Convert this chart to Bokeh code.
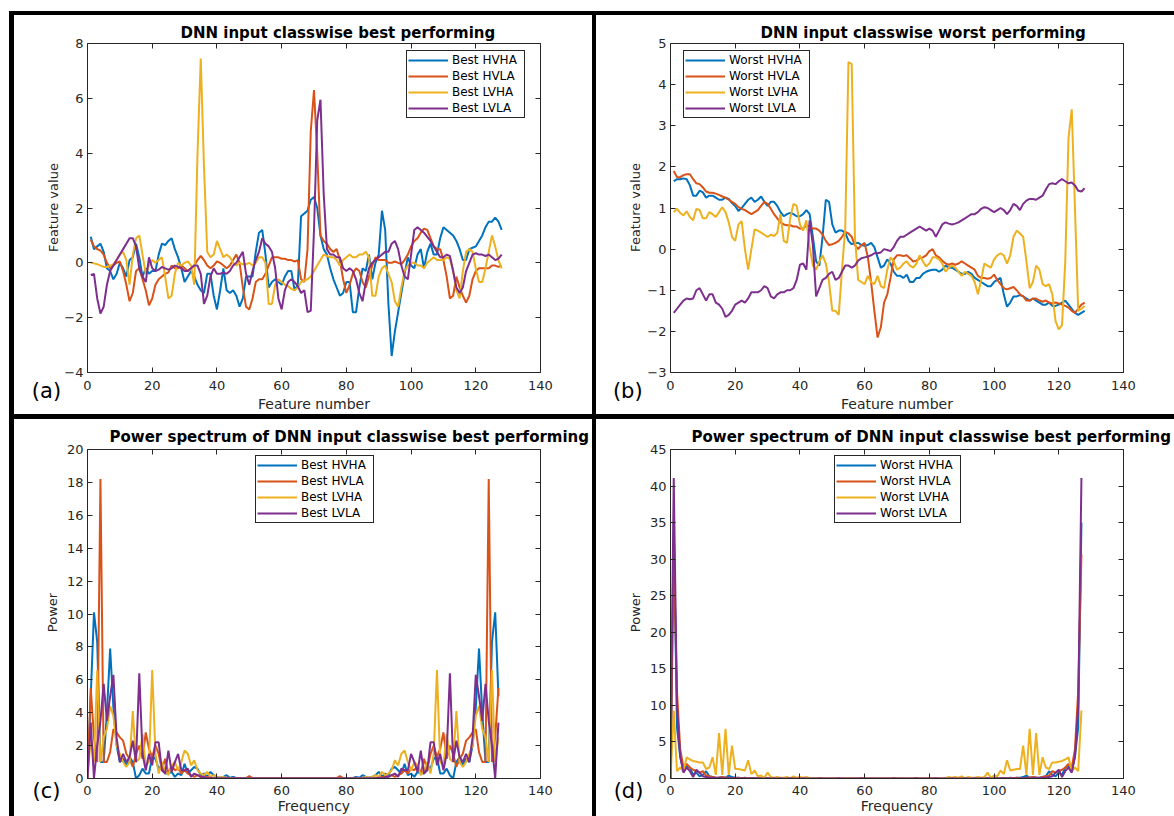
import math
from bokeh.plotting import figure
from bokeh.models import LinearAxis, FixedTicker, Legend, LegendItem, Div, Spacer, Range1d
from bokeh.core.properties import value
from bokeh.layouts import row, column
from bokeh.embed import file_html
from bokeh.resources import INLINE

# ---------------- data ----------------
classes = ["HVHA", "HVLA", "LVHA", "LVLA"]
x_ticks = [0, 20, 40, 60, 80, 100, 120, 140]
ya_ticks = [-4, -2, 0, 2, 4, 6, 8]
yb_ticks = [-3, -2, -1, 0, 1, 2, 3, 4, 5]
yc_ticks = [0, 2, 4, 6, 8, 10, 12, 14, 16, 18, 20]
yd_ticks = [0, 5, 10, 15, 20, 25, 30, 35, 40, 45]

best_hvha = [0.95, 0.5, 0.6, 0.7, 0.4, -0.2, -0.3, -0.6, -0.4, 0.0,
             -0.2, -0.5, 0.1, 0.2, 0.7, 0.2, -0.5, -0.2, -0.4, -0.3,
             -0.3, 0.3, 0.7, 0.65, 0.8, 0.9, 0.5, 0.2, -0.2, -0.7,
             -0.5, -0.3, -0.5, -0.8, -1.0, -1.1, -0.4, -0.4, -1.2, -1.7,
             -1.0, -0.2, -1.0, -1.1, -1.0, -1.2, -1.6, -1.3, -0.5, -0.5,
             -0.5, 0.4, 1.1, 1.2, 0.3, -0.9, -0.7, -0.6, -0.7, -0.8,
             -0.5, -0.3, -0.3, -1.0, -0.8, 1.7, 1.8, 1.9, 2.3, 2.4,
             2.0, 1.0, 0.5, 0.3, -0.2, -0.6, -0.9, -1.2, -1.1, -0.7,
             -0.7, -1.8, -1.8, -0.9, -0.2, -0.3, 0.3, -0.6, 0.0, 0.3,
             1.9, 1.2, -1.5, -3.4, -2.5, -1.8, -1.1, -0.4, 0.2, -0.1,
             -0.2, 0.3, 0.5, -0.2, 0.4, 0.7, 0.3, 0.3, 0.9, 1.3,
             1.2, 1.1, 1.0, 0.8, 0.5, 0.1, 0.1, 0.5, 0.55, 0.6,
             0.8, 1.0, 1.3, 1.5, 1.5, 1.65, 1.5, 1.2]
best_hvla = [0.85, 0.6, 0.5, 0.45, 0.3, 0.0, -0.2, -0.1, 0.0, 0.05,
             -0.3, -0.8, -1.4, -1.1, -0.3, -0.2, -0.6, -1.0, -1.55, -1.3,
             -0.8, -0.6, -0.5, -0.4, -0.35, -0.1, -0.2, -0.2, -0.1, -0.2,
             -0.3, -0.2, -0.1, 0.1, 0.25, 0.1, -0.1, -0.2, -0.1, 0.05,
             0.0, -0.1, -0.2, -0.1, 0.1, 0.3, 0.0, -0.9, -1.6, -1.7,
             -1.3, -0.7, -0.6, -0.6, -0.4, -0.1, 0.2, 0.2, 0.2, 0.15,
             0.15, 0.1, 0.1, 0.05, 0.1, -0.6, -0.7, 0.5, 4.8, 6.3,
             4.0, 1.0, 0.8, 0.7, 0.5, 0.4, 0.5, 0.1, -0.6, -1.1,
             -0.8, -0.4, -0.2, -0.3, -0.7, -0.9, -0.5, -0.1, 0.2, 0.1,
             0.1, 0.1, 0.0, 0.0, 0.05, 0.0, -0.05, 0.1, 0.3, 0.6,
             0.8, 0.9, 1.1, 1.25, 1.2, 0.9, 0.6, 0.5, 0.5, 0.1,
             -0.5, -1.3, -1.2, -0.5, -0.9, -1.2, -1.45, -1.2, -0.6, -0.3,
             -0.2, -0.2, -0.2, -0.2, -0.1, -0.1, -0.15, -0.1]
best_lvha = [0.0, -0.02, -0.05, -0.1, -0.15, -0.15, -0.1, -0.05, 0.1, 0.3,
             0.4, 0.1, -0.8, 0.3, 0.9, 1.0, 0.3, -0.4, -0.1, 0.1,
             0.0, 0.1, 0.2, -0.5, -1.3, -1.2, -0.4, 0.0, -0.1, 0.0,
             0.05, -0.1, -0.8, 4.0, 7.45, 3.5, 0.4, 0.2, 0.3, 0.8,
             0.5, 0.2, 0.3, 0.2, 0.0, -0.1, 0.0, -0.05, -0.05, 0.0,
             -0.1, 0.0, 0.2, 0.2, 0.0, -1.5, -1.5, -0.8, -0.6, -0.7,
             -0.8, -0.85, -0.95, -1.0, -0.9, -0.7, -0.65, -0.6, -0.5, -0.3,
             -0.1, 0.1, 0.3, 0.25, 0.2, 0.2, 0.1, -0.1, 0.1, 0.2,
             0.3, 0.2, 0.2, 0.3, 0.3, 0.4, 0.2, -1.2, -1.2, -0.5,
             -0.2, -0.1, -0.4, -0.7, -1.4, -1.6, -0.9, -0.3, -0.1, 0.0,
             0.0, -0.1, -0.1, -0.2, 0.0, 0.1, 0.2, 0.1, 0.1, 0.1,
             0.2, 0.15, -0.3, -1.0, -1.3, -0.3, 0.4, 0.5, 0.4, -0.2,
             -0.7, -0.7, -0.2, 0.4, 1.0, 0.6, 0.1, -0.2]
best_lvla = [-0.45, -0.4, -1.3, -1.85, -1.6, -0.8, -0.3, -0.1, 0.1, 0.3,
             0.5, 0.7, 0.9, 0.9, 0.6, -0.2, -0.5, -0.7, 0.2, -0.2,
             -0.3, -0.25, -0.15, -0.2, -0.25, -0.2, -0.1, -0.15, -0.2, -0.3,
             -0.3, -0.2, -0.1, -0.1, -0.4, -1.5, -1.2, -0.5, -0.2, -0.4,
             -0.4, -0.35, -0.4, -0.3, -0.1, 0.0, 0.2, 0.4, -0.4, -0.8,
             -0.3, 0.1, 0.4, 0.9, 0.7, 0.6, 0.4, -0.2, -1.3, -1.7,
             -1.0, -0.7, -0.6, -0.7, -0.85, -1.1, -1.0, -1.8, -1.75, 1.2,
             5.2, 5.95, 2.5, 0.5, 0.3, 0.3, 0.2, 0.2, -0.2, -0.3,
             -0.2, -0.3, -0.6, -1.1, -1.4, -0.7, -0.2, 0.0, 0.1, 0.2,
             0.3, 0.4, 0.4, 0.7, 0.8, 0.5, -0.1, -0.5, -0.6, 0.3,
             1.2, 1.3, 1.2, 1.1, 0.95, 0.8, 0.6, 0.4, 0.2, 0.2,
             0.3, 0.25, -0.3, -0.9, -1.1, -0.9, -0.3, 0.0, 0.3, 0.35,
             0.3, 0.3, 0.25, 0.3, 0.2, 0.1, 0.15, 0.3]

worst_hvha = [1.65, 1.7, 1.7, 1.72, 1.7, 1.55, 1.3, 1.3, 1.42, 1.38,
              1.25, 1.3, 1.3, 1.25, 1.2, 1.2, 1.25, 1.22, 1.12, 1.05,
              0.93, 1.0, 1.1, 1.2, 1.25, 1.15, 1.2, 1.28, 1.15, 1.05,
              1.15, 1.15, 1.05, 0.9, 0.8, 0.85, 0.88, 0.85, 0.8, 0.8,
              0.85, 0.95, 0.85, 0.3, -0.3, -0.4, 0.3, 1.2, 1.15, 0.6,
              0.4, 0.45, 0.45, 0.4, 0.2, 0.12, 0.15, 0.15, 0.1, 0.08,
              0.1, 0.15, 0.05, -0.2, -0.45, -0.4, -0.25, -0.35, -0.55, -0.65,
              -0.65, -0.7, -0.62, -0.8, -0.8, -0.7, -0.7, -0.6, -0.55, -0.52,
              -0.5, -0.5, -0.55, -0.5, -0.4, -0.45, -0.45, -0.5, -0.55, -0.6,
              -0.6, -0.55, -0.6, -0.7, -0.75, -0.8, -0.85, -0.9, -0.9, -0.8,
              -0.75, -0.7, -1.1, -1.4, -1.3, -1.15, -1.15, -1.12, -1.15, -1.2,
              -1.25, -1.2, -1.25, -1.3, -1.35, -1.35, -1.3, -1.38, -1.38, -1.35,
              -1.3, -1.25, -1.35, -1.45, -1.55, -1.6, -1.55, -1.5]
worst_hvla = [1.9, 1.75, 1.75, 1.8, 1.82, 1.82, 1.7, 1.6, 1.58, 1.5,
              1.4, 1.37, 1.37, 1.35, 1.32, 1.28, 1.25, 1.2, 1.15, 1.1,
              1.02, 0.98, 0.95, 0.9, 0.85, 0.9, 0.95, 1.05, 1.15, 1.1,
              0.98, 0.85, 0.75, 0.65, 0.6, 0.58, 0.58, 0.55, 0.55, 0.5,
              0.5, 0.58, 0.55, 0.5, 0.5, 0.45, 0.35, 0.2, 0.1, 0.12,
              0.15, 0.2, 0.3, 0.42, 0.38, 0.3, 0.1, 0.0, 0.1, 0.15,
              -0.2, -0.8, -1.5, -2.15, -1.9, -1.3, -1.1, -0.7, -0.25, -0.15,
              -0.15, -0.17, -0.15, -0.22, -0.3, -0.28, -0.22, -0.2, -0.15, -0.05,
              0.0, -0.15, -0.2, -0.28, -0.35, -0.38, -0.35, -0.38, -0.35, -0.3,
              -0.35, -0.4, -0.45, -0.5, -0.65, -0.7, -0.7, -0.72, -0.7, -0.62,
              -0.75, -0.85, -0.95, -0.98, -0.95, -0.92, -1.0, -1.1, -1.15, -1.25,
              -1.25, -1.2, -1.2, -1.25, -1.28, -1.25, -1.3, -1.32, -1.3, -1.32,
              -1.35, -1.38, -1.42, -1.5, -1.55, -1.45, -1.35, -1.3]
worst_lvha = [0.9, 0.98, 0.88, 0.82, 0.92, 0.78, 0.7, 0.98, 0.95, 0.75,
              0.75, 0.9, 0.85, 0.78, 0.9, 1.02, 0.9, 0.65, 0.3, 0.2,
              0.6, 0.68, 0.0, -0.5, 0.0, 0.48, 0.45, 0.4, 0.35, 0.3,
              0.35, 0.32, 0.4, 0.85, 0.2, 0.15, 0.75, 1.1, 1.05, 0.6,
              0.45, 0.7, 0.05, -0.4, -0.5, -0.3, -0.15, -0.35, -0.8, -1.5,
              -1.5, -1.6, -0.5, 0.5, 4.55, 4.5, 0.3, -0.75, -0.8, -0.85,
              -0.65, -0.8, -0.85, -0.65, -0.9, -0.95, -0.5, -0.2, -0.3, -0.5,
              -0.45, -0.35, -0.3, -0.4, -0.45, -0.35, -0.15, -0.3, -0.42, -0.35,
              -0.2, -0.2, -0.25, -0.35, -0.55, -0.45, -0.4, -0.45, -0.55, -0.65,
              -0.55, -0.6, -0.65, -0.8, -1.1, -0.75, -0.35, -0.4, -0.45, -0.25,
              -0.15, -0.1, -0.15, -0.35, -0.15, 0.3, 0.45, 0.38, 0.3, -0.3,
              -0.95, -0.8, -0.4, -0.5, -0.85, -0.9, -0.85, -1.1, -1.75, -1.95,
              -1.85, -0.3, 2.7, 3.4, 1.0, -1.5, -1.45, -1.38]
worst_lvla = [-1.55, -1.45, -1.35, -1.25, -1.2, -1.22, -1.2, -1.0, -0.95, -1.1,
              -1.25, -1.1, -1.1, -1.3, -1.35, -1.45, -1.65, -1.6, -1.5, -1.35,
              -1.3, -1.25, -1.3, -1.2, -1.05, -1.05, -1.05, -1.0, -0.9, -0.95,
              -1.15, -1.2, -1.1, -1.05, -1.05, -1.0, -1.0, -0.95, -0.75, -0.38,
              -0.35, -0.5, 0.7, 0.1, -1.15, -0.95, -0.75, -0.7, -0.6, -0.55,
              -0.75, -0.7, -0.55, -0.4, -0.4, -0.45, -0.4, -0.28, -0.22, -0.2,
              -0.18, -0.15, -0.1, -0.1, -0.08, 0.0, -0.02, -0.05, 0.05, 0.2,
              0.3, 0.3, 0.35, 0.4, 0.45, 0.5, 0.55, 0.5, 0.45, 0.5,
              0.45, 0.3, 0.45, 0.6, 0.65, 0.62, 0.6, 0.62, 0.65, 0.7,
              0.75, 0.8, 0.85, 0.85, 0.9, 0.98, 1.02, 1.0, 0.95, 0.9,
              0.95, 1.0, 0.95, 0.85, 0.95, 1.1, 1.05, 0.95, 1.1, 1.18,
              1.22, 1.22, 1.2, 1.25, 1.3, 1.45, 1.58, 1.6, 1.58, 1.65,
              1.7, 1.65, 1.6, 1.62, 1.55, 1.42, 1.4, 1.48]

# power spectra (frequency bins 0..127)
psd_best_hvha = [0.0, 5.0, 10.1, 8.3, 1.0, 1.0, 4.0, 7.9, 4.3, 2.0,
                 1.0, 1.2, 0.8, 1.3, 1.0, 0.0, 0.2, 0.6, 0.3, 0.3,
                 1.3, 1.2, 0.6, 0.8, 0.3, 0.3, 0.4, 0.1, 0.3, 0.2,
                 0.9, 0.3, 0.5, 0.7, 0.6, 0.2, 0.3, 0.1, 0.4, 0.2,
                 0.1, 0.05, 0.1, 0.2, 0.05, 0.1, 0.03, 0.02, 0.02, 0.01,
                 0.02, 0.01, 0.01, 0.02, 0.01, 0.01, 0.01, 0.02, 0.01, 0.01,
                 0.01, 0.02, 0.01, 0.01, 0.01,
                 0.01, 0.01, 0.02, 0.01, 0.01, 0.01, 0.02, 0.01, 0.01, 0.01,
                 0.02, 0.01, 0.01, 0.02, 0.01, 0.02, 0.02, 0.03, 0.1, 0.05,
                 0.2, 0.1, 0.05, 0.1, 0.2, 0.4, 0.1, 0.3, 0.2, 0.6,
                 0.7, 0.5, 0.3, 0.9, 0.2, 0.3, 0.1, 0.4, 0.3, 0.3,
                 0.8, 0.6, 1.2, 1.3, 0.3, 0.3, 0.6, 0.2, 0.0, 1.0,
                 1.3, 0.8, 1.2, 1.0, 2.0, 4.3, 7.9, 4.0, 1.0, 1.0,
                 8.3, 10.1, 5.0]
psd_best_hvla = [0.0, 5.5, 2.5, 1.0, 18.2, 1.0, 1.0, 1.6, 3.0, 2.8,
                 2.5, 2.3, 1.5, 1.2, 0.7, 1.5, 2.0, 1.2, 2.8, 1.8,
                 1.3, 2.0, 1.5, 0.5, 1.2, 0.3, 0.8, 0.5, 0.6, 0.3,
                 0.5, 0.3, 0.2, 0.1, 0.2, 0.1, 0.05, 0.1, 0.05, 0.02,
                 0.03, 0.02, 0.01, 0.02, 0.01, 0.02, 0.01, 0.01, 0.02, 0.03,
                 0.15, 0.03, 0.01, 0.01, 0.02, 0.01, 0.01, 0.01, 0.02, 0.01,
                 0.01, 0.01, 0.01, 0.02, 0.01,
                 0.02, 0.01, 0.01, 0.01, 0.01, 0.02, 0.01, 0.01, 0.01, 0.02,
                 0.01, 0.01, 0.03, 0.15, 0.03, 0.02, 0.01, 0.01, 0.02, 0.01,
                 0.02, 0.01, 0.02, 0.03, 0.02, 0.05, 0.1, 0.05, 0.1, 0.2,
                 0.1, 0.2, 0.3, 0.5, 0.3, 0.6, 0.5, 0.8, 0.3, 1.2,
                 0.5, 1.5, 2.0, 1.3, 1.8, 2.8, 1.2, 2.0, 1.5, 0.7,
                 1.2, 1.5, 2.3, 2.5, 2.8, 3.0, 1.6, 1.0, 1.0, 18.2,
                 1.0, 2.5, 5.5]
psd_best_lvha = [0.0, 2.5, 1.0, 6.6, 1.0, 2.5, 3.0, 4.4, 3.8, 2.0,
                 1.5, 1.0, 0.7, 1.0, 4.1, 1.0, 1.2, 2.7, 0.8, 1.0,
                 6.6, 1.5, 0.3, 1.0, 0.5, 0.2, 0.8, 1.0, 0.5, 1.0,
                 1.7, 1.5, 0.8, 1.1, 0.5, 0.3, 0.2, 0.4, 0.1, 0.2,
                 0.1, 0.05, 0.1, 0.02, 0.05, 0.02, 0.01, 0.02, 0.01, 0.02,
                 0.01, 0.01, 0.02, 0.01, 0.01, 0.01, 0.02, 0.01, 0.01, 0.01,
                 0.02, 0.01, 0.01, 0.01, 0.01,
                 0.01, 0.01, 0.01, 0.02, 0.01, 0.01, 0.01, 0.02, 0.01, 0.01,
                 0.01, 0.02, 0.01, 0.01, 0.02, 0.01, 0.02, 0.01, 0.02, 0.05,
                 0.02, 0.1, 0.05, 0.1, 0.2, 0.1, 0.4, 0.2, 0.3, 0.5,
                 1.1, 0.8, 1.5, 1.7, 1.0, 0.5, 1.0, 0.8, 0.2, 0.5,
                 1.0, 0.3, 1.5, 6.6, 1.0, 0.8, 2.7, 1.2, 1.0, 4.1,
                 1.0, 0.7, 1.0, 1.5, 2.0, 3.8, 4.4, 3.0, 2.5, 1.0,
                 6.6, 1.0, 2.5]
psd_best_lvla = [0.0, 3.4, 0.0, 2.0, 3.5, 5.75, 3.5, 5.0, 6.3, 2.5,
                 1.0, 1.5, 1.0, 1.3, 2.3, 1.0, 6.4, 1.5, 0.5, 1.5,
                 0.8, 2.2, 2.2, 0.5, 0.3, 1.7, 0.4, 1.0, 1.5, 0.5,
                 0.5, 0.6, 0.1, 0.3, 0.2, 0.1, 0.1, 0.0, 0.05, 0.02,
                 0.02, 0.01, 0.01, 0.02, 0.01, 0.01, 0.01, 0.01, 0.01, 0.02,
                 0.01, 0.01, 0.01, 0.01, 0.01, 0.01, 0.01, 0.01, 0.01, 0.01,
                 0.01, 0.01, 0.01, 0.01, 0.01,
                 0.01, 0.01, 0.01, 0.01, 0.01, 0.01, 0.01, 0.01, 0.01, 0.01,
                 0.01, 0.01, 0.01, 0.01, 0.02, 0.01, 0.01, 0.01, 0.01, 0.01,
                 0.02, 0.01, 0.01, 0.02, 0.02, 0.05, 0.0, 0.1, 0.1, 0.2,
                 0.3, 0.1, 0.6, 0.5, 0.5, 1.5, 1.0, 0.4, 1.7, 0.3,
                 0.5, 2.2, 2.2, 0.8, 1.5, 0.5, 1.5, 6.4, 1.0, 2.3,
                 1.3, 1.0, 1.5, 1.0, 2.5, 6.3, 5.0, 3.5, 5.75, 3.5,
                 2.0, 0.0, 3.4]

psd_worst_hvha = [0.0, 35.0, 7.0, 3.0, 1.0, 1.8, 1.5, 0.5, 0.8, 0.3,
                  0.5, 1.0, 0.3, 0.2, 0.1, 0.1, 0.2, 0.1, 0.4, 0.2,
                  0.1, 0.1, 0.05, 0.1, 0.05, 0.02, 0.05, 0.02, 0.02, 0.02,
                  0.02, 0.01, 0.03, 0.01, 0.02, 0.01, 0.01, 0.02, 0.01, 0.01,
                  0.01, 0.02, 0.01, 0.01, 0.01, 0.01, 0.02, 0.01, 0.01, 0.01,
                  0.01, 0.01, 0.02, 0.01, 0.01, 0.01, 0.01, 0.01, 0.01, 0.02,
                  0.01, 0.01, 0.01, 0.01, 0.01,
                  0.01, 0.01, 0.01, 0.01, 0.02, 0.01, 0.01, 0.01, 0.01, 0.01,
                  0.01, 0.02, 0.01, 0.01, 0.01, 0.01, 0.01, 0.02, 0.01, 0.01,
                  0.01, 0.01, 0.02, 0.01, 0.01, 0.01, 0.02, 0.01, 0.01, 0.02,
                  0.01, 0.03, 0.01, 0.02,
                  0.02, 0.02, 0.02, 0.05, 0.02, 0.05, 0.1, 0.05, 0.1, 0.1,
                  0.2, 0.4, 0.1, 0.2, 0.1, 0.1, 0.2, 0.3, 1.0, 0.5,
                  0.3, 0.8, 0.5, 1.5, 1.8, 1.0, 3.0, 7.0, 35.0]
psd_worst_hvla = [0.0, 30.6, 12.0, 4.0, 1.5, 2.0, 1.5, 1.2, 1.0, 0.8,
                  1.0, 0.4, 0.3, 0.2, 0.1, 0.1, 0.2, 0.1, 0.1, 0.05,
                  0.05, 0.1, 0.05, 0.02, 0.05, 0.02, 0.02, 0.01, 0.02, 0.01,
                  0.02, 0.01, 0.03, 0.01, 0.02, 0.01, 0.01, 0.02, 0.01, 0.01,
                  0.01, 0.02, 0.01, 0.01, 0.01, 0.01, 0.02, 0.01, 0.01, 0.01,
                  0.01, 0.01, 0.02, 0.01, 0.01, 0.01, 0.01, 0.01, 0.01, 0.02,
                  0.01, 0.01, 0.01, 0.01, 0.01,
                  0.01, 0.01, 0.01, 0.01, 0.02, 0.01, 0.01, 0.01, 0.01, 0.01,
                  0.01, 0.02, 0.01, 0.01, 0.01, 0.01, 0.01, 0.02, 0.01, 0.01,
                  0.01, 0.01, 0.02, 0.01, 0.01, 0.01, 0.02, 0.01, 0.01, 0.02,
                  0.01, 0.03, 0.01, 0.02,
                  0.01, 0.02, 0.01, 0.02, 0.02, 0.05, 0.02, 0.05, 0.1, 0.05,
                  0.05, 0.1, 0.1, 0.2, 0.1, 0.1, 0.2, 0.3, 0.4, 1.0,
                  0.8, 1.0, 1.2, 1.5, 2.0, 1.5, 4.0, 12.0, 30.6]
psd_worst_lvha = [0.0, 9.3, 1.0, 1.5, 1.0, 2.9, 2.6, 2.4, 2.3, 2.2,
                  2.2, 1.3, 1.5, 2.9, 0.5, 6.2, 0.5, 6.8, 0.5, 4.5,
                  1.3, 1.3, 1.2, 1.1, 2.5, 0.6, 1.1, 0.3, 0.4, 0.1,
                  0.8, 0.2, 0.1, 0.2, 0.1, 0.1, 0.2, 0.02, 0.3, 0.1,
                  0.2, 0.1, 0.2, 0.05, 0.02, 0.05, 0.02, 0.01, 0.02, 0.01,
                  0.01, 0.02, 0.01, 0.01, 0.01, 0.02, 0.01, 0.01, 0.01, 0.01,
                  0.02, 0.01, 0.01, 0.01, 0.01,
                  0.01, 0.01, 0.01, 0.02, 0.01, 0.01, 0.01, 0.01, 0.02, 0.01,
                  0.01, 0.01, 0.02, 0.01, 0.01, 0.02, 0.01, 0.02, 0.05, 0.02,
                  0.05, 0.2, 0.1, 0.2, 0.1, 0.3, 0.02, 0.2, 0.1, 0.1,
                  0.2, 0.1, 0.2, 0.8, 0.1, 0.4, 0.3, 1.1, 0.6, 2.5,
                  1.1, 1.2, 1.3, 1.3, 4.5, 0.5, 6.8, 0.5, 6.2, 0.5,
                  2.9, 1.5, 1.3, 2.2, 2.2, 2.3, 2.4, 2.6, 2.9, 1.0,
                  1.5, 1.0, 9.3]
psd_worst_lvla = [0.0, 41.1, 10.0, 3.0, 0.8, 1.5, 1.0, 0.2, 1.2, 0.8,
                  0.3, 0.2, 0.1, 0.1, 0.05, 0.1, 0.05, 0.02, 0.05, 0.02,
                  0.02, 0.01, 0.02, 0.01, 0.01, 0.02, 0.01, 0.01, 0.01, 0.01,
                  0.02, 0.01, 0.03, 0.01, 0.02, 0.01, 0.01, 0.02, 0.01, 0.01,
                  0.01, 0.02, 0.01, 0.01, 0.01, 0.01, 0.02, 0.01, 0.01, 0.01,
                  0.01, 0.01, 0.02, 0.01, 0.01, 0.01, 0.01, 0.01, 0.01, 0.02,
                  0.01, 0.01, 0.01, 0.01, 0.01,
                  0.01, 0.01, 0.01, 0.01, 0.02, 0.01, 0.01, 0.01, 0.01, 0.01,
                  0.01, 0.02, 0.01, 0.01, 0.01, 0.01, 0.01, 0.02, 0.01, 0.01,
                  0.01, 0.01, 0.02, 0.01, 0.01, 0.01, 0.02, 0.01, 0.01, 0.02,
                  0.01, 0.03, 0.01, 0.02,
                  0.01, 0.01, 0.01, 0.01, 0.02, 0.01, 0.01, 0.02, 0.01, 0.02,
                  0.02, 0.05, 0.02, 0.05, 0.1, 0.05, 0.1, 0.1, 0.2, 0.3,
                  0.8, 1.2, 0.2, 1.0, 1.5, 0.8, 3.0, 10.0, 41.1]

# ---------------- style ----------------
COLORS = ["#0072BD", "#D95319", "#EDB120", "#7E2F8E"]
FONT = "DejaVu Sans"
AXC = "#262626"
FW, FH = 453, 329
PW = 578          # panel width between the black rules
SW = 47           # width of the strip holding the y label and the panel letter


def make_axis(ticks, show, standoff):
    return LinearAxis(
        ticker=FixedTicker(ticks=ticks),
        major_tick_in=5, major_tick_out=0,
        minor_tick_line_color=None,
        axis_line_color=AXC, axis_line_width=1,
        major_tick_line_color=AXC, major_tick_line_width=1,
        major_label_text_font=FONT,
        major_label_text_font_size="13px" if show else "1px",
        major_label_text_color=AXC if show else None,
        major_label_standoff=standoff,
    )


def strip(ch, ylabel, ylab_xy, letter, letter_x, letter_standoff):
    # the strip's frame lines up with the neighbouring plot frame (height FH)
    s = figure(width=SW, height=ch, x_range=Range1d(0, SW), y_range=Range1d(0, FH),
               x_axis_type=None, y_axis_type=None, output_backend="svg",
               toolbar_location=None, min_border=0, outline_line_color=None,
               background_fill_color="white", border_fill_color="white")
    s.text(x=[ylab_xy[0]], y=[ylab_xy[1]], text=[ylabel], angle=math.pi / 2,
           text_font=value(FONT), text_font_size=value("13px"), text_color=AXC,
           text_align="center", text_baseline="middle")
    lax = LinearAxis(ticker=FixedTicker(ticks=[letter_x]),
                     major_label_overrides={letter_x: letter},
                     axis_line_color=None, major_tick_line_color=None,
                     minor_tick_line_color=None,
                     major_tick_in=0, major_tick_out=0,
                     major_label_text_font=FONT, major_label_text_font_size="21px",
                     major_label_text_color="#000000",
                     major_label_standoff=letter_standoff)
    s.add_layout(lax, "below")
    return s


def panel(ch, ox, oy, fl, ft, xr, yr, yticks, x0, series, prefix, leg_xy,
          title, title_off, title_stand, xlabel, xl_major, xl_stand):
    mw = PW - SW
    left = fl - ox - SW
    bottom = ch - (ft - oy) - FH
    p = figure(width=mw, height=ch, x_range=Range1d(*xr), y_range=Range1d(*yr),
               x_axis_type=None, y_axis_type=None, title=title,
               output_backend="svg", toolbar_location=None,
               min_border_left=left, min_border_right=mw - left - FW,
               min_border_top=ft - oy, min_border_bottom=bottom,
               background_fill_color="white", border_fill_color="white",
               outline_line_color=None)
    p.title.text_font = FONT
    p.title.text_font_size = "15px"
    p.title.text_font_style = "bold"
    p.title.text_color = "#000000"
    p.title.align = "left"
    p.title.offset = title_off
    p.title.standoff = title_stand

    xa = make_axis(x_ticks, True, xl_major)
    xa.axis_label = xlabel
    xa.axis_label_standoff = xl_stand
    xa.axis_label_text_font = FONT
    xa.axis_label_text_font_size = "14px"
    xa.axis_label_text_font_style = "normal"
    xa.axis_label_text_color = AXC
    p.add_layout(xa, "below")
    p.add_layout(make_axis(yticks, True, 4), "left")
    p.add_layout(make_axis(x_ticks, False, 0), "above")
    p.add_layout(make_axis(yticks, False, 0), "right")

    items = []
    for ys, c, cls in zip(series, COLORS, classes):
        xv = [x0 + i for i in range(len(ys))]
        r = p.line(xv, ys, line_color=c, line_width=2)
        items.append(LegendItem(label=prefix + " " + cls, renderers=[r]))
    lw = 71 if prefix == "Best" else 79
    leg = Legend(items=items, location=leg_xy, orientation="vertical",
                 border_line_color=AXC, border_line_width=1, border_line_alpha=1,
                 background_fill_color="white", background_fill_alpha=1,
                 label_text_font=FONT, label_text_font_size="12px", label_text_color="#000000",
                 glyph_width=40, glyph_height=16, label_height=16, label_width=lw,
                 label_standoff=4, spacing=0, padding=1, margin=0)
    p.add_layout(leg)
    return p


sa = strip(399, "Feature value", (39, 165), "(a)", 32, 6)
pa = panel(399, 14, 15, 87, 43, (0, 140), (-4, 8), ya_ticks, 1,
           [best_hvha, best_hvla, best_lvha, best_lvla], "Best", (319, 254),
           "DNN input classwise best performing", 93, 4, "Feature number", 8, 3)
sb = strip(399, "Feature value", (39, 165), "(b)", 33, 6)
pb = panel(399, 596, 15, 670, 43, (0, 140), (-3, 5), yb_ticks, 1,
           [worst_hvha, worst_hvla, worst_lvha, worst_lvla], "Worst", (13, 254),
           "DNN input classwise worst performing", 90, 4, "Feature number", 8, 3)
sc = strip(397, "Power", (38, 166), "(c)", 32, 0)
pc = panel(397, 14, 419, 87, 449, (0, 140), (0, 20), yc_ticks, 0,
           [psd_best_hvha, psd_best_hvla, psd_best_lvha, psd_best_lvla], "Best", (168, 255),
           "Power spectrum of DNN input classwise best performing", 22, 8,
           "Frequency", 7, 0)
sd = strip(397, "Power", (39, 166), "(d)", 32, 0)
pd = panel(397, 596, 419, 670, 449, (0, 140), (0, 45), yd_ticks, 0,
           [psd_worst_hvha, psd_worst_hvla, psd_worst_lvha, psd_worst_lvla], "Worst", (164, 255),
           "Power spectrum of DNN input classwise best performing", 21, 8,
           "Frequency", 7, 0)


def bar(w, h):
    return Div(text="", width=w, height=h, margin=0,
               styles={"background-color": "#000000", "overflow": "hidden"})


grid = column(
    bar(1165, 4),
    row(bar(5, 399), sa, pa, bar(4, 399), sb, pb, spacing=0),
    bar(1165, 5),
    row(bar(5, 397), sc, pc, bar(4, 397), sd, pd, spacing=0),
    spacing=0,
)
layout = column(Spacer(width=1174, height=11, margin=0),
                row(Spacer(width=9, height=805, margin=0), grid, spacing=0),
                spacing=0)

open("out.html", "w").write(file_html(layout, INLINE, title="DNN input classwise"))
